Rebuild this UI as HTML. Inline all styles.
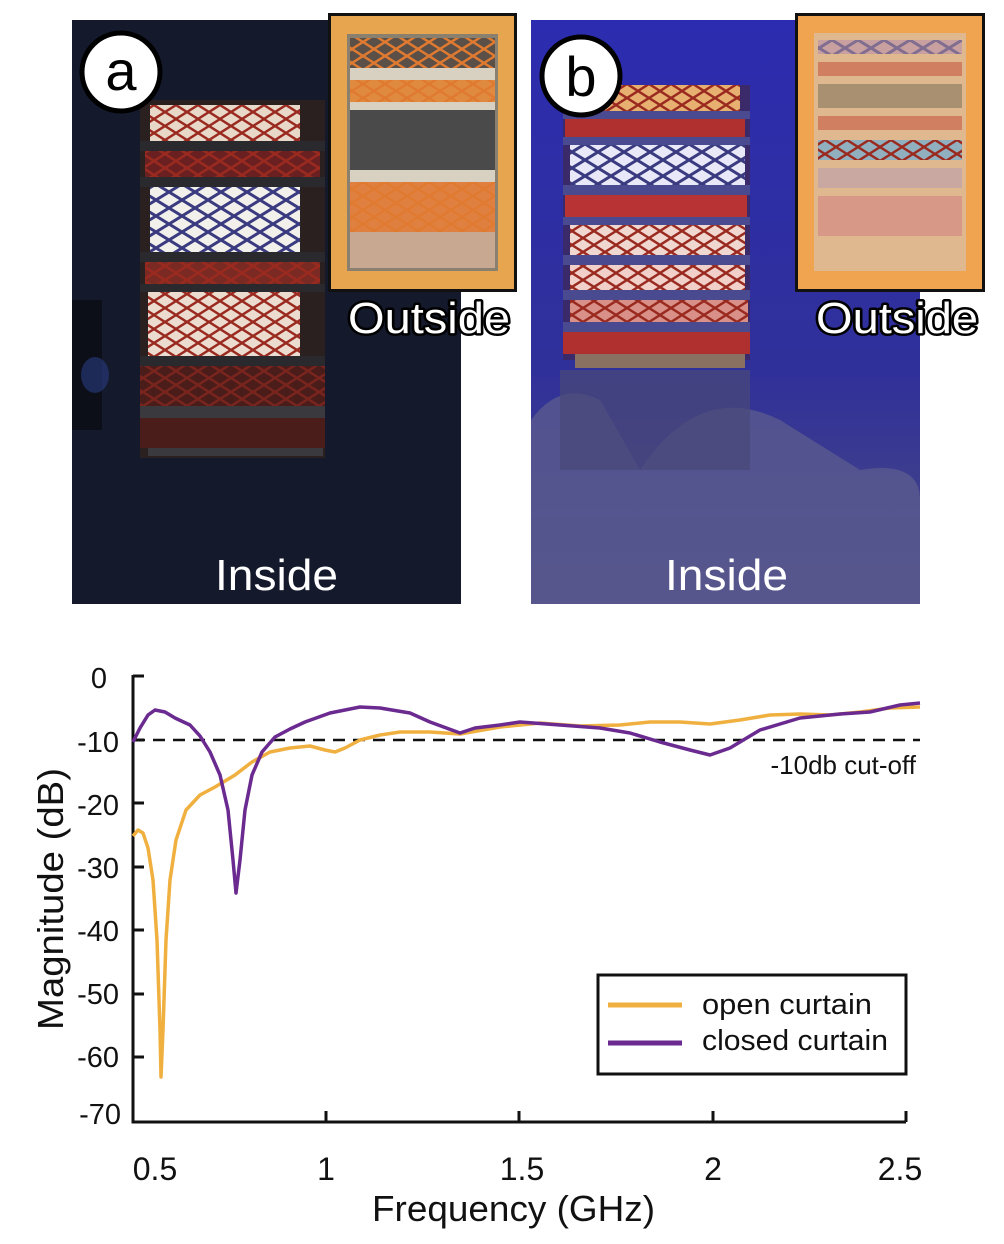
<!DOCTYPE html>
<html><head><meta charset="utf-8"><style>
html,body{margin:0;padding:0;background:#fff;}
svg{display:block;}
text{font-family:"Liberation Sans",sans-serif;}
</style></head><body>
<svg width="1004" height="1244" viewBox="0 0 1004 1244" xmlns="http://www.w3.org/2000/svg">
<defs>
<pattern id="mesh" width="22" height="14" patternUnits="userSpaceOnUse">
<path d="M0 7 L11 0 L22 7 L11 14 Z" fill="none" stroke="#9a2a20" stroke-width="2.5"/>
</pattern>
<pattern id="meshB" width="26" height="16" patternUnits="userSpaceOnUse">
<path d="M0 8 L13 0 L26 8 L13 16 Z" fill="none" stroke="#3a3a80" stroke-width="3"/>
</pattern>
<pattern id="meshO" width="22" height="14" patternUnits="userSpaceOnUse">
<path d="M0 7 L11 0 L22 7 L11 14 Z" fill="none" stroke="#e07a30" stroke-width="2.5"/>
</pattern>
<linearGradient id="gb" x1="0" y1="0" x2="0" y2="1">
<stop offset="0" stop-color="#2c2cb0"/><stop offset="0.6" stop-color="#30309a"/><stop offset="1" stop-color="#4a4a80"/>
</linearGradient>
</defs>

<!-- Panel a -->
<rect x="72" y="20" width="389" height="584" fill="#141a2c"/>
<rect x="72" y="300" width="30" height="130" fill="#0c0f18"/>
<ellipse cx="95" cy="375" rx="14" ry="18" fill="#2a3a80" opacity="0.6"/>
<g>
<rect x="140" y="100" width="185" height="358" fill="#2a2020"/>
<rect x="150" y="105" width="150" height="36" fill="#e8d8c8"/><rect x="150" y="105" width="150" height="36" fill="url(#mesh)"/>
<rect x="140" y="141" width="185" height="10" fill="#2a2a2e"/>
<rect x="145" y="151" width="175" height="26" fill="#6a2020"/><rect x="145" y="151" width="175" height="26" fill="url(#mesh)"/>
<rect x="140" y="177" width="185" height="10" fill="#2a2a2e"/>
<rect x="150" y="187" width="150" height="65" fill="#f2f0ea"/><rect x="150" y="187" width="150" height="65" fill="url(#meshB)"/>
<rect x="140" y="252" width="185" height="10" fill="#2a2a2e"/>
<rect x="145" y="262" width="175" height="22" fill="#7a2a22"/><rect x="145" y="262" width="175" height="22" fill="url(#mesh)"/>
<rect x="140" y="284" width="185" height="8" fill="#2a2a2e"/>
<rect x="148" y="292" width="152" height="64" fill="#ecdcd0"/><rect x="148" y="292" width="152" height="64" fill="url(#mesh)"/>
<rect x="140" y="356" width="185" height="10" fill="#2a2a2e"/>
<rect x="140" y="366" width="185" height="40" fill="#4a1c1a"/><rect x="140" y="366" width="185" height="40" fill="url(#mesh)" opacity="0.6"/>
<rect x="140" y="406" width="185" height="12" fill="#3a3a3e"/>
<rect x="140" y="418" width="185" height="30" fill="#4a1c1a"/>
<rect x="148" y="448" width="175" height="8" fill="#3a3a3e"/>
</g>
<rect x="328" y="13" width="189" height="279" fill="#111"/>
<rect x="331" y="16" width="183" height="273" fill="#e8a550"/>
<rect x="347" y="34" width="151" height="237" fill="#8a8070"/>
<rect x="350" y="38" width="145" height="30" fill="#5a5048"/><rect x="350" y="38" width="145" height="30" fill="url(#meshO)"/>
<rect x="350" y="68" width="145" height="12" fill="#d8d0c0"/>
<rect x="350" y="80" width="145" height="22" fill="#e08a40"/><rect x="350" y="80" width="145" height="22" fill="url(#meshO)"/>
<rect x="350" y="102" width="145" height="8" fill="#d8d0c0"/>
<rect x="350" y="110" width="145" height="60" fill="#4a4a4a"/>
<rect x="350" y="170" width="145" height="12" fill="#d8d0c0"/>
<rect x="350" y="182" width="145" height="50" fill="#e08040"/><rect x="350" y="182" width="145" height="50" fill="url(#meshO)"/>
<rect x="350" y="232" width="145" height="36" fill="#c8a890"/>
<text x="348" y="333" font-size="44" textLength="162" lengthAdjust="spacingAndGlyphs" fill="#fff" stroke="#000" stroke-width="5" stroke-linejoin="round" paint-order="stroke">Outside</text>
<circle cx="121" cy="72" r="39" fill="#fff" stroke="#000" stroke-width="5"/>
<text x="121" y="90" font-size="56" text-anchor="middle" fill="#000">a</text>
<text x="215" y="590" font-size="44" textLength="123" lengthAdjust="spacingAndGlyphs" fill="#fff">Inside</text>

<!-- Panel b -->
<rect x="531" y="20" width="389" height="584" fill="url(#gb)"/>
<path d="M531 420 Q560 380 600 400 L640 470 Q700 380 780 420 L860 470 Q920 460 920 500 L920 604 L531 604 Z" fill="#5a5a90" opacity="0.8"/>
<rect x="560" y="370" width="190" height="100" fill="#4a4878" opacity="0.7"/>
<g>
<rect x="563" y="85" width="187" height="275" fill="#3a2a6a"/>
<rect x="580" y="85" width="160" height="26" fill="#e8b070"/><rect x="580" y="85" width="160" height="26" fill="url(#mesh)"/>
<rect x="563" y="111" width="187" height="8" fill="#4a4a90"/>
<rect x="565" y="119" width="180" height="18" fill="#b03030"/>
<rect x="563" y="137" width="187" height="8" fill="#4a4a90"/>
<rect x="570" y="145" width="175" height="40" fill="#e8e8f8"/><rect x="570" y="145" width="175" height="40" fill="url(#meshB)"/>
<rect x="563" y="185" width="187" height="10" fill="#4a4a90"/>
<rect x="565" y="195" width="182" height="22" fill="#b83434"/>
<rect x="563" y="217" width="187" height="8" fill="#4a4a90"/>
<rect x="570" y="225" width="175" height="30" fill="#f0d8d0"/><rect x="570" y="225" width="175" height="30" fill="url(#mesh)"/>
<rect x="563" y="255" width="187" height="10" fill="#4a4a90"/>
<rect x="570" y="265" width="175" height="25" fill="#f0d0c8"/><rect x="570" y="265" width="175" height="25" fill="url(#mesh)"/>
<rect x="563" y="290" width="187" height="10" fill="#4a4a90"/>
<rect x="570" y="300" width="178" height="22" fill="#d89088"/><rect x="570" y="300" width="178" height="22" fill="url(#mesh)"/>
<rect x="563" y="322" width="187" height="10" fill="#4a4a90"/>
<rect x="563" y="332" width="187" height="22" fill="#b03030"/>
<rect x="575" y="354" width="170" height="14" fill="#8a7060"/>
</g>
<rect x="795" y="13" width="190" height="279" fill="#111"/>
<rect x="798" y="16" width="184" height="273" fill="#f0a450"/>
<rect x="814" y="33" width="152" height="238" fill="#e0b890"/>
<rect x="818" y="40" width="144" height="14" fill="#c8a0a0"/><rect x="818" y="40" width="144" height="14" fill="url(#meshB)" opacity="0.5"/>
<rect x="818" y="62" width="144" height="14" fill="#d08060"/>
<rect x="818" y="84" width="144" height="24" fill="#a89070"/>
<rect x="818" y="116" width="144" height="14" fill="#d08060"/>
<rect x="818" y="140" width="144" height="20" fill="#90b0c0"/><rect x="818" y="140" width="144" height="20" fill="url(#mesh)"/>
<rect x="818" y="168" width="144" height="20" fill="#c8a8a0"/>
<rect x="818" y="196" width="144" height="40" fill="#d89888"/>
<text x="816" y="333" font-size="44" textLength="162" lengthAdjust="spacingAndGlyphs" fill="#fff" stroke="#000" stroke-width="5" stroke-linejoin="round" paint-order="stroke">Outside</text>
<circle cx="581" cy="76" r="39" fill="#fff" stroke="#000" stroke-width="5"/>
<text x="581" y="96" font-size="56" text-anchor="middle" fill="#000">b</text>
<text x="665" y="590" font-size="44" textLength="123" lengthAdjust="spacingAndGlyphs" fill="#fff">Inside</text>

<!-- Chart -->
<g stroke="#111" stroke-width="3" fill="none">
<path d="M133 675 L133 1122 L906 1122"/>
<path d="M133 676 L144 676 M133 740 L144 740 M133 803 L144 803 M133 867 L144 867 M133 930 L144 930 M133 994 L144 994 M133 1057 L144 1057"/>
<path d="M326 1122 L326 1111 M519 1122 L519 1111 M713 1122 L713 1111 M906 1122 L906 1111"/>
</g>
<g font-size="29" fill="#111" text-anchor="end">
<text x="107" y="688">0</text>
<text x="119" y="752">-10</text>
<text x="119" y="815">-20</text>
<text x="119" y="878">-30</text>
<text x="119" y="941">-40</text>
<text x="119" y="1004">-50</text>
<text x="119" y="1067">-60</text>
<text x="121" y="1124">-70</text>
</g>
<g font-size="32" fill="#111" text-anchor="middle">
<text x="155" y="1180">0.5</text>
<text x="326" y="1180">1</text>
<text x="522" y="1180">1.5</text>
<text x="713" y="1180">2</text>
<text x="900" y="1180">2.5</text>
</g>
<text x="372" y="1221" font-size="36" textLength="283" lengthAdjust="spacingAndGlyphs" fill="#111">Frequency (GHz)</text>
<text transform="translate(63 1030) rotate(-90)" font-size="36" textLength="262" lengthAdjust="spacingAndGlyphs" fill="#111">Magnitude (dB)</text>
<line x1="133" y1="740" x2="920" y2="740" stroke="#111" stroke-width="2.5" stroke-dasharray="12 8"/>
<text x="916" y="774" font-size="26" fill="#111" text-anchor="end">-10db cut-off</text>
<polyline fill="none" stroke="#f0b040" stroke-width="3.5" stroke-linejoin="round" points="133,836 138,830 143,833 148,848 153,880 157,940 160,1030 161,1077 163,1030 166,940 170,880 176,840 186,810 200,795 215,787 235,775 252,762 270,752 290,748 310,746 325,750 335,752 345,748 360,740 380,735 400,732 430,732 460,734 500,727 540,723 580,726 620,725 650,722 680,722 710,724 740,720 770,715 800,714 830,715 860,712 890,708 920,707"/>
<polyline fill="none" stroke="#6a2a90" stroke-width="3.5" stroke-linejoin="round" points="133,742 140,728 148,715 155,710 165,712 175,718 190,725 200,736 210,752 220,775 228,810 233,860 236,893 240,860 245,810 252,775 262,752 275,737 290,729 305,722 330,713 360,707 380,708 410,713 430,722 460,733 475,728 500,725 520,722 560,725 600,728 630,733 660,742 690,750 710,755 730,748 760,730 800,718 840,714 870,712 900,705 920,703"/>
<rect x="598" y="975" width="308" height="99" fill="#fff" stroke="#111" stroke-width="3"/>
<line x1="608" y1="1005" x2="682" y2="1005" stroke="#f0b040" stroke-width="5"/>
<line x1="608" y1="1043" x2="682" y2="1043" stroke="#6a2a90" stroke-width="5"/>
<text x="702" y="1014" font-size="29" textLength="170" lengthAdjust="spacingAndGlyphs" fill="#111">open curtain</text>
<text x="702" y="1050" font-size="29" textLength="186" lengthAdjust="spacingAndGlyphs" fill="#111">closed curtain</text>
</svg>
</body></html>
